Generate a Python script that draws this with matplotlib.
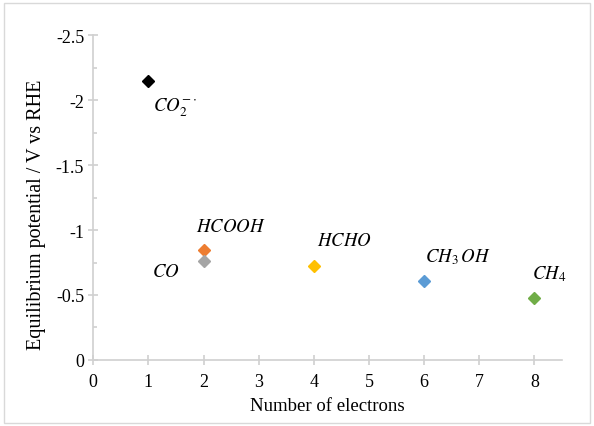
import matplotlib
matplotlib.use("Agg")
import matplotlib.pyplot as plt
from matplotlib.patches import Rectangle
from matplotlib.ticker import MultipleLocator, FuncFormatter

plt.rcParams['font.family'] = ['Liberation Serif', 'DejaVu Serif']
plt.rcParams['mathtext.fontset'] = 'stix'
plt.rcParams['axes.unicode_minus'] = False

# CO2 reduction products: electrons transferred vs equilibrium potential
products = [r'$CO_2^{-\cdot}$', r'$HCOOH$', r'$CO$', r'$HCHO$', r'$CH_3\,OH$', r'$CH_4$']
electrons = [1, 2, 2, 4, 6, 8]
potential = [-2.15, -0.85, -0.76, -0.72, -0.61, -0.48]
colors = ['#000000', '#ED7D31', '#A5A5A5', '#FFC000', '#5B9BD5', '#70AD47']

# label anchor points (left edge, vertical centre) in data units
label_x = [1.09, 1.86, 1.07, 4.05, 6.01, 7.96]
label_y = [-1.95, -1.03, -0.68, -0.92, -0.80, -0.67]

fig = plt.figure(figsize=(5.94, 4.27), dpi=100)
ax = fig.add_axes([0.157, 0.1546, 0.789, 0.761])

for x, y, c in zip(electrons, potential, colors):
    ax.plot(x, y, marker='D', ms=6.5, color=c, linestyle='none')

for name, lx, ly in zip(products, label_x, label_y):
    ax.text(lx, ly, name, fontsize=13.5, ha='left', va='center')

ax.set_xlim(0, 8.5)
ax.set_ylim(0, -2.5)
ax.xaxis.set_major_locator(MultipleLocator(1))
ax.yaxis.set_major_locator(MultipleLocator(0.5))
ax.yaxis.set_minor_locator(MultipleLocator(0.25))
ax.yaxis.set_major_formatter(FuncFormatter(lambda v, p: '0' if v == 0 else f'{v:g}'))

grey = '#d0d0d0'
for side in ['top', 'right']:
    ax.spines[side].set_visible(False)
for side in ['left', 'bottom']:
    ax.spines[side].set_color(grey)
    ax.spines[side].set_linewidth(1.2)
ax.tick_params(which='major', direction='inout', length=7, width=1.2, color=grey,
               labelsize=13, pad=3)
ax.tick_params(axis='x', which='major', pad=6)
ax.tick_params(which='minor', direction='in', length=3, width=1.2, color=grey)

ax.set_xlabel('Number of electrons', fontsize=13.5, labelpad=5)
ax.set_ylabel('Equilibrium potential / V vs RHE', fontsize=14.5)
ax.yaxis.set_label_coords(-0.10, 0.45)

# thin frame around the whole figure
fig.patches.append(Rectangle((0.006, 0.006), 0.988, 0.985, transform=fig.transFigure,
                             fill=False, edgecolor='#d9d9d9', linewidth=1))

fig.savefig('out.png', dpi=100)
